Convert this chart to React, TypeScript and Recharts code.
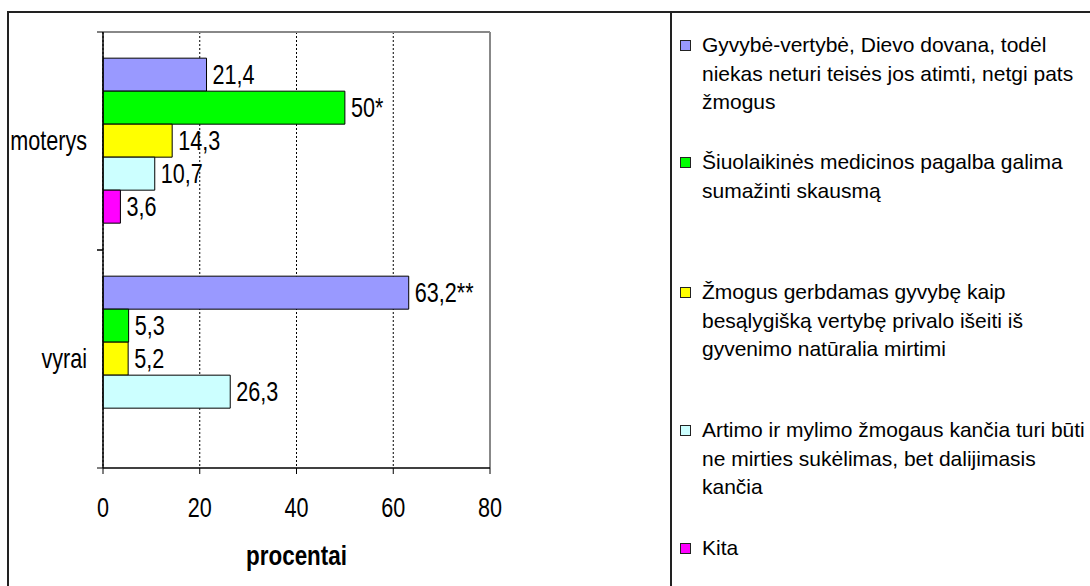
import React from 'react';
import { BarChart, Bar, XAxis, YAxis, CartesianGrid, LabelList, Legend } from 'recharts';

const categories = ['moterys', 'vyrai'];
const seriesKeys = ['gyvybe', 'medicina', 'gerbdamas', 'artimo', 'kita'];
const seriesNames = [
  'Gyvybė-vertybė, Dievo dovana, todėl\nniekas neturi teisės jos atimti, netgi pats\nžmogus',
  'Šiuolaikinės medicinos pagalba galima\nsumažinti skausmą',
  'Žmogus gerbdamas gyvybę kaip\nbesąlygišką vertybę privalo išeiti iš\ngyvenimo natūralia mirtimi',
  'Artimo ir mylimo žmogaus kančia turi būti\nne mirties sukėlimas, bet dalijimasis\nkančia',
  'Kita',
];
const gyvybe = [21.4, 63.2];
const medicina = [50, 5.3];
const gerbdamas = [14.3, 5.2];
const artimo = [10.7, 26.3];
const kita: (number | null)[] = [3.6, null];
const gyvybeMarks = ['', '**'];
const medicinaMarks = ['*', ''];
const noMarks = ['', ''];
const xTicks = [0, 20, 40, 60, 80];
const colors = ['#9999FF', '#00FF00', '#FFFF00', '#CCFFFF', '#FF00FF'];

const seriesValues = [gyvybe, medicina, gerbdamas, artimo, kita];
const seriesMarks = [gyvybeMarks, medicinaMarks, noMarks, noMarks, noMarks];

const fmt = (v: number | null) => (v == null ? '' : String(v).replace('.', ','));

const rows = categories.map((c, i) => {
  const r: any = { category: c };
  seriesKeys.forEach((k, s) => {
    r[k] = seriesValues[s][i];
    r[k + 'Label'] = fmt(seriesValues[s][i]) + (seriesValues[s][i] == null ? '' : seriesMarks[s][i]);
  });
  return r;
});

const SANS = "'Liberation Sans', Arial, sans-serif";
const SQUEEZE = 0.8;

const NarrowText = ({ x, y, anchor, dy, size, bold, children }: any) => (
  <text
    transform={`translate(${x},${y}) scale(${SQUEEZE},1)`}
    x={0}
    y={0}
    dy={dy}
    textAnchor={anchor}
    fontSize={size}
    fontWeight={bold ? 'bold' : 'normal'}
    fontFamily={SANS}
    fill="#000"
  >
    {children}
  </text>
);

const CategoryTick = (props: any) => {
  const { x, y, payload } = props;
  const half = payload && payload.offset != null ? payload.offset : 0;
  const axisX = x + 16;
  return (
    <g>
      <line x1={axisX - 6} x2={axisX} y1={y - half} y2={y - half} stroke="#000" strokeWidth={1} />
      <line x1={axisX - 6} x2={axisX} y1={y + half} y2={y + half} stroke="#000" strokeWidth={1} />
      <NarrowText x={x} y={y} dy="0.35em" anchor="end" size={27}>
        {payload.value}
      </NarrowText>
    </g>
  );
};

const ValueTick = (props: any) => {
  const { x, y, payload } = props;
  return (
    <NarrowText x={x} y={y} dy="0.71em" anchor="middle" size={27}>
      {payload.value}
    </NarrowText>
  );
};

const ValueLabel = (props: any) => {
  const { x, y, width, height, value } = props;
  if (value == null || value === '') return null;
  return (
    <NarrowText x={Number(x) + Number(width) + 6} y={Number(y) + Number(height) / 2} dy="0.35em" anchor="start" size={27}>
      {value}
    </NarrowText>
  );
};

const AxisTitle = (props: any) => {
  const vb = props.viewBox || {};
  return (
    <NarrowText x={vb.x + vb.width / 2} y={vb.y + vb.height - 21} dy={0} anchor="middle" size={28} bold>
      procentai
    </NarrowText>
  );
};

const legendTops = [31, 148, 278, 416, 534];

const renderLegend = (props: any) => {
  const payload: any[] = props.payload || [];
  const ordered = seriesKeys
    .map((k) => payload.find((p) => p.dataKey === k))
    .filter(Boolean);
  return (
    <div style={{ position: 'relative', width: 410, height: 586 }}>
      {ordered.map((e: any, i: number) => (
        <div key={i} style={{ position: 'absolute', left: 0, top: legendTops[i], display: 'flex', alignItems: 'flex-start' }}>
          <span
            style={{
              display: 'block',
              width: 9,
              height: 9,
              border: '1px solid #222',
              background: e.color,
              marginTop: 9,
              marginRight: 11,
              flex: 'none',
            }}
          />
          <span
            style={{
              whiteSpace: 'pre-line',
              lineHeight: '28.5px',
              fontSize: 21,
              fontFamily: SANS,
              color: '#000',
            }}
          >
            {e.value}
          </span>
        </div>
      ))}
    </div>
  );
};

export default function App() {
  return (
    <div style={{ position: 'absolute', left: 0, top: 0, width: 1090, height: 586, overflow: 'hidden', background: '#fff' }}>
      <BarChart
        width={1090}
        height={586}
        data={rows}
        layout="vertical"
        margin={{ top: 32, right: 600, bottom: 0, left: 0 }}
        barCategoryGap="12%"
        barGap={0}
      >
        <CartesianGrid horizontal={false} vertical={true} stroke="#000" strokeDasharray="2 2" strokeWidth={1} />
        <CartesianGrid
          stroke="#888"
          strokeWidth={2}
          horizontalCoordinatesGenerator={(p: any) => [p.offset.top]}
          verticalCoordinatesGenerator={(p: any) => [p.offset.left + p.offset.width]}
        />
        <XAxis
          type="number"
          domain={[0, 80]}
          ticks={xTicks}
          interval={0}
          height={118}
          tickSize={6}
          tickMargin={24}
          axisLine={{ stroke: '#000', strokeWidth: 1.5 }}
          tickLine={{ stroke: '#000' }}
          tick={<ValueTick />}
          label={<AxisTitle />}
        />
        <YAxis
          type="category"
          dataKey="category"
          width={103}
          tickSize={6}
          tickMargin={10}
          tickLine={false}
          axisLine={{ stroke: '#000', strokeWidth: 1.5 }}
          tick={<CategoryTick />}
        />
        {seriesKeys.map((k, s) => (
          <Bar
            key={k}
            dataKey={k}
            name={seriesNames[s]}
            fill={colors[s]}
            stroke="#000"
            strokeWidth={1}
            isAnimationActive={false}
          >
            <LabelList dataKey={k + 'Label'} content={<ValueLabel />} />
          </Bar>
        ))}
        <Legend
          layout="horizontal"
          verticalAlign="middle"
          align="center"
          content={renderLegend}
          wrapperStyle={{ left: 680, top: 0, width: 410, height: 586 }}
        />
      </BarChart>
      <div style={{ position: 'absolute', left: 7, top: 11, width: 2000, height: 2000, borderTop: '2px solid #222', borderLeft: '2px solid #222', pointerEvents: 'none' }} />
      <div style={{ position: 'absolute', left: 670, top: 12, width: 2, height: 600, background: '#222', pointerEvents: 'none' }} />
    </div>
  );
}
